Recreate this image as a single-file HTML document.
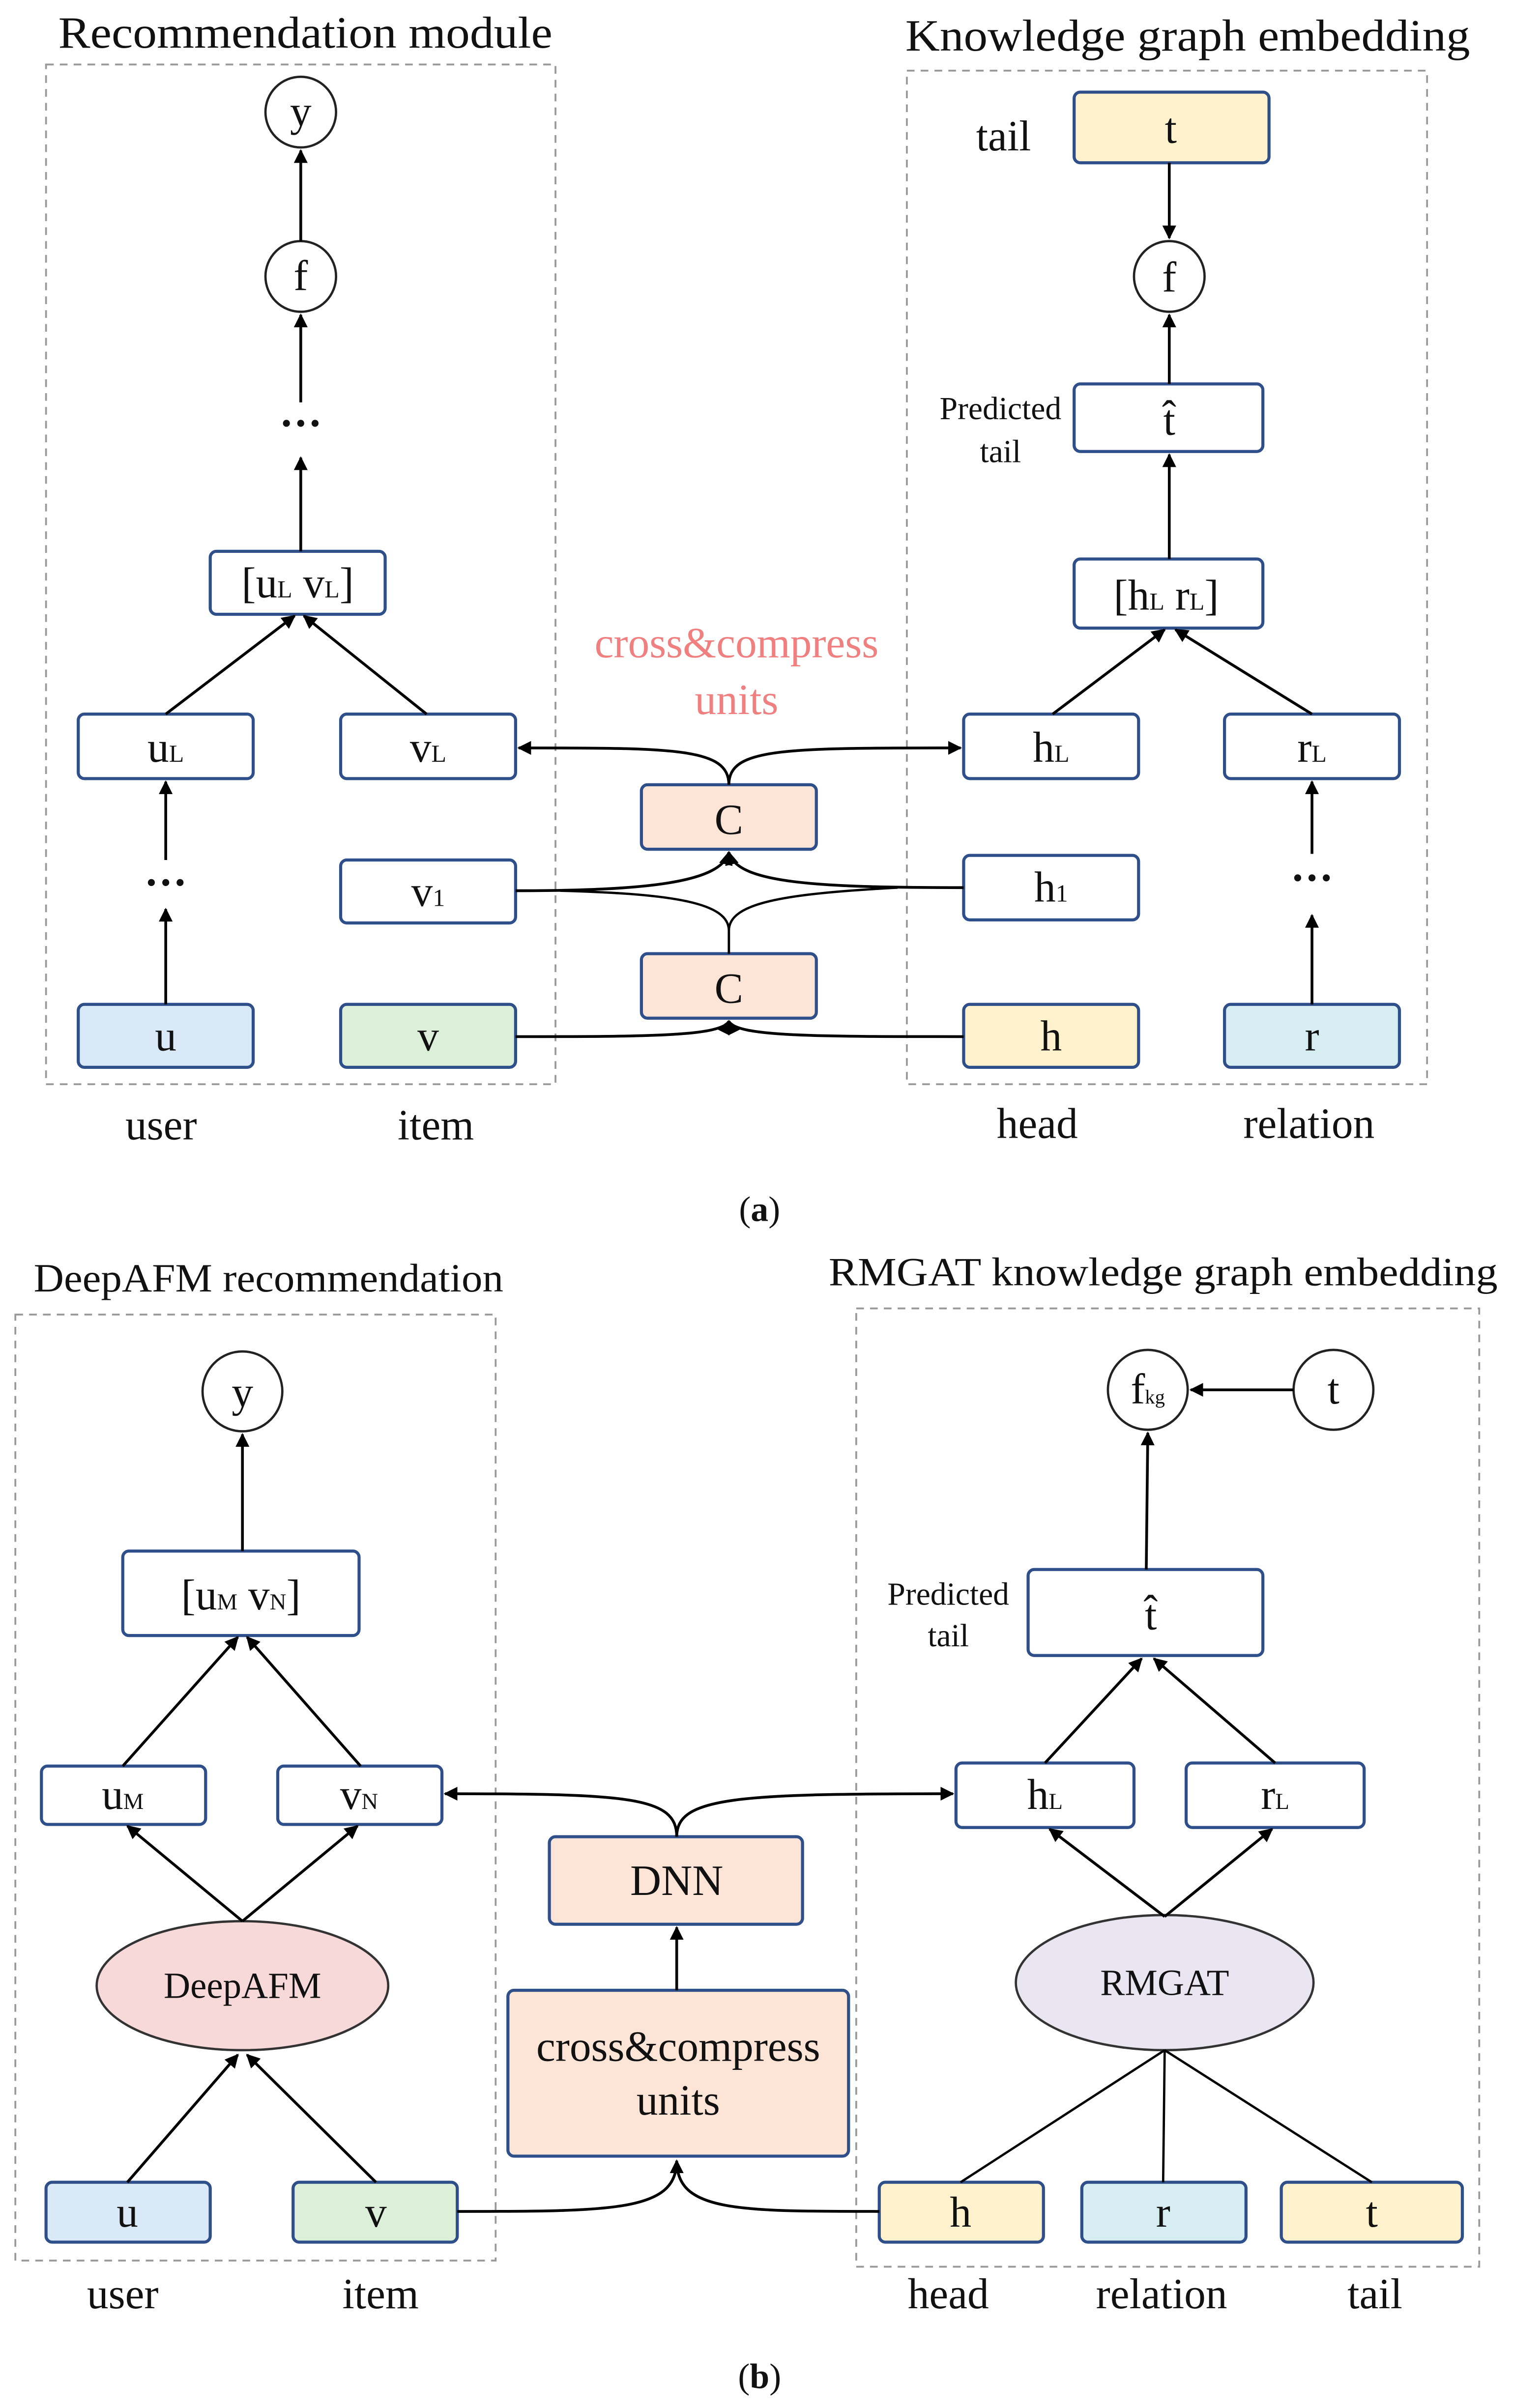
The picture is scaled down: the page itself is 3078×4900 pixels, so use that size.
<!DOCTYPE html>
<html><head><meta charset="utf-8"><style>
html,body{margin:0;padding:0;background:#fff}
svg{display:block}
text{font-family:"Liberation Serif",serif;fill:#111}
</style></head><body>
<svg width="3078" height="4900" viewBox="0 0 986 1568" preserveAspectRatio="none" xmlns="http://www.w3.org/2000/svg">
<defs>
<marker id="a" viewBox="0 0 10 10" refX="9" refY="5" markerWidth="5" markerHeight="5" orient="auto-start-reverse"><path d="M0,0 L10,5 L0,10 z" fill="#000"/></marker>
</defs>
<g fill="none" stroke="#999" stroke-width="1.2" stroke-dasharray="5,4">
<rect x="30" y="42" width="332" height="664"/>
<rect x="591" y="46" width="339" height="660"/>
<rect x="10" y="856" width="313" height="616"/>
<rect x="558" y="852" width="406" height="624"/>
</g>
<g font-size="29" text-anchor="middle">
<text x="199" y="31" textLength="322" lengthAdjust="spacingAndGlyphs">Recommendation module</text>
<text x="774" y="33" textLength="368" lengthAdjust="spacingAndGlyphs">Knowledge graph embedding</text>
<text x="175" y="841" font-size="26" textLength="306" lengthAdjust="spacingAndGlyphs">DeepAFM recommendation</text>
<text x="758" y="837" font-size="26" textLength="436" lengthAdjust="spacingAndGlyphs">RMGAT knowledge graph embedding</text>
</g>
<g stroke="#2e4f8a" stroke-width="2">
<rect x="137" y="359" width="114" height="41" rx="4" fill="#fff"/>
<rect x="51" y="465" width="114" height="42" rx="4" fill="#fff"/>
<rect x="222" y="465" width="114" height="42" rx="4" fill="#fff"/>
<rect x="222" y="560" width="114" height="41" rx="4" fill="#fff"/>
<rect x="51" y="654" width="114" height="41" rx="4" fill="#dae9f7"/>
<rect x="222" y="654" width="114" height="41" rx="4" fill="#dcefd8"/>
<rect x="418" y="511" width="114" height="42" rx="4" fill="#fce4d6"/>
<rect x="418" y="621" width="114" height="42" rx="4" fill="#fce4d6"/>
<rect x="700" y="60" width="127" height="46" rx="4" fill="#fff2cc"/>
<rect x="700" y="250" width="123" height="44" rx="4" fill="#fff"/>
<rect x="700" y="364" width="123" height="45" rx="4" fill="#fff"/>
<rect x="628" y="465" width="114" height="42" rx="4" fill="#fff"/>
<rect x="798" y="465" width="114" height="42" rx="4" fill="#fff"/>
<rect x="628" y="557" width="114" height="42" rx="4" fill="#fff"/>
<rect x="628" y="654" width="114" height="41" rx="4" fill="#fff2cc"/>
<rect x="798" y="654" width="114" height="41" rx="4" fill="#d6eef2"/>
<rect x="80" y="1010" width="154" height="55" rx="4" fill="#fff"/>
<rect x="27" y="1150" width="107" height="38" rx="4" fill="#fff"/>
<rect x="181" y="1150" width="107" height="38" rx="4" fill="#fff"/>
<rect x="30" y="1421" width="107" height="39" rx="4" fill="#dae9f7"/>
<rect x="191" y="1421" width="107" height="39" rx="4" fill="#dcefd8"/>
<rect x="358" y="1196" width="165" height="57" rx="4" fill="#fce4d6"/>
<rect x="331" y="1296" width="222" height="108" rx="4" fill="#fce4d6"/>
<rect x="670" y="1022" width="153" height="56" rx="4" fill="#fff"/>
<rect x="623" y="1148" width="116" height="42" rx="4" fill="#fff"/>
<rect x="773" y="1148" width="116" height="42" rx="4" fill="#fff"/>
<rect x="573" y="1421" width="107" height="39" rx="4" fill="#fff2cc"/>
<rect x="705" y="1421" width="107" height="39" rx="4" fill="#d6eef2"/>
<rect x="835" y="1421" width="118" height="39" rx="4" fill="#fff2cc"/>
</g>
<g stroke="#222" stroke-width="1.5" fill="#fff">
<circle cx="196" cy="73" r="23"/><circle cx="196" cy="180" r="23"/>
<circle cx="762" cy="180" r="23"/>
<circle cx="158" cy="906" r="26"/>
<circle cx="748" cy="905" r="26"/><circle cx="869" cy="905" r="26"/>
</g>
<g stroke="#333" stroke-width="1.5">
<ellipse cx="158" cy="1293" rx="95" ry="42" fill="#f8d9d9"/>
<ellipse cx="759" cy="1291" rx="97" ry="44" fill="#e9e5f1"/>
</g>
<g stroke="#000" stroke-width="1.8" fill="none" marker-end="url(#a)">
<line x1="108" y1="654" x2="108" y2="592"/>
<line x1="108" y1="560" x2="108" y2="509"/>
<line x1="108" y1="465" x2="192" y2="401"/>
<line x1="278" y1="465" x2="198" y2="401"/>
<line x1="196" y1="359" x2="196" y2="298"/>
<line x1="196" y1="262" x2="196" y2="205"/>
<line x1="196" y1="157" x2="196" y2="98"/>
<line x1="762" y1="106" x2="762" y2="155"/>
<line x1="762" y1="250" x2="762" y2="205"/>
<line x1="762" y1="364" x2="762" y2="296"/>
<line x1="686" y1="465" x2="759" y2="410"/>
<line x1="855" y1="465" x2="766" y2="410"/>
<line x1="855" y1="556" x2="855" y2="509"/>
<line x1="855" y1="654" x2="855" y2="596"/>
<path d="M475,511 C475,487 440,487 338,487"/>
<path d="M475,511 C475,487 510,487 626,487"/>
<path d="M336,580 C420,580 470,575 475,555"/>
<path d="M628,578 C530,578 480,575 475,555"/>
<path d="M336,675 C420,675 470,675 475,665"/>
<path d="M628,675 C530,675 480,675 475,665"/>
<line x1="158" y1="1010" x2="158" y2="934"/>
<line x1="80" y1="1150" x2="155" y2="1066"/>
<line x1="235" y1="1150" x2="161" y2="1066"/>
<line x1="158" y1="1251" x2="83" y2="1189"/>
<line x1="158" y1="1251" x2="233" y2="1189"/>
<line x1="83" y1="1421" x2="155" y2="1338"/>
<line x1="245" y1="1421" x2="161" y2="1338"/>
<line x1="441" y1="1296" x2="441" y2="1255"/>
<path d="M441,1196 C441,1170 410,1168 290,1168"/>
<path d="M441,1196 C441,1170 480,1168 621,1168"/>
<path d="M298,1440 C400,1440 441,1440 441,1407"/>
<path d="M573,1440 C480,1440 441,1440 441,1407"/>
<line x1="843" y1="905" x2="776" y2="905"/>
<line x1="747" y1="1022" x2="748" y2="933"/>
<line x1="681" y1="1148" x2="744" y2="1080"/>
<line x1="831" y1="1148" x2="752" y2="1080"/>
<line x1="759" y1="1248" x2="684" y2="1191"/>
<line x1="759" y1="1248" x2="829" y2="1191"/>
</g>
<g stroke="#000" stroke-width="1.5" fill="none">
<path d="M475,621 L475,606 C475,588 440,582 365,580"/>
<path d="M475,621 L475,606 C475,588 510,582 585,578"/>
<line x1="759" y1="1335" x2="626" y2="1421"/>
<line x1="759" y1="1335" x2="758" y2="1421"/>
<line x1="759" y1="1335" x2="894" y2="1421"/>
</g>
<g font-size="28" text-anchor="middle">
<text x="196" y="82">y</text><text x="196" y="189">f</text>
<text x="196" y="285" font-weight="bold">···</text>
<text x="194" y="389">[u<tspan font-size="16">L</tspan> v<tspan font-size="16">L</tspan>]</text>
<text x="108" y="496">u<tspan font-size="16">L</tspan></text>
<text x="279" y="496">v<tspan font-size="16">L</tspan></text>
<text x="108" y="584" font-weight="bold">···</text>
<text x="279" y="590">v<tspan font-size="16">1</tspan></text>
<text x="108" y="684">u</text><text x="279" y="684">v</text>
<text x="475" y="543">C</text><text x="475" y="653">C</text>
<text x="480" y="428" style="fill:#f08080">cross&amp;compress</text>
<text x="480" y="465" style="fill:#f08080">units</text>
<text x="763" y="93">t</text>
<text x="654" y="98">tail</text>
<text x="762" y="190">f</text>
<text x="762" y="283">t̂</text>
<text x="760" y="397">[h<tspan font-size="16">L</tspan> r<tspan font-size="16">L</tspan>]</text>
<text x="685" y="496">h<tspan font-size="16">L</tspan></text>
<text x="855" y="496">r<tspan font-size="16">L</tspan></text>
<text x="685" y="587">h<tspan font-size="16">1</tspan></text>
<text x="855" y="581" font-weight="bold">···</text>
<text x="685" y="684">h</text><text x="855" y="684">r</text>
<text x="105" y="742">user</text><text x="284" y="742">item</text>
<text x="676" y="741">head</text><text x="853" y="741">relation</text>
<text x="495" y="795" font-size="23">(<tspan font-weight="bold">a</tspan>)</text>
<text x="158" y="916">y</text>
<text x="157" y="1048">[u<tspan font-size="15">M</tspan> v<tspan font-size="15">N</tspan>]</text>
<text x="80" y="1178">u<tspan font-size="15">M</tspan></text>
<text x="234" y="1178">v<tspan font-size="15">N</tspan></text>
<text x="158" y="1301" font-size="24">DeepAFM</text>
<text x="83" y="1450">u</text><text x="245" y="1450">v</text>
<text x="441" y="1234">DNN</text>
<text x="442" y="1342">cross&amp;compress</text>
<text x="442" y="1377">units</text>
<text x="748" y="914">f<tspan font-size="13">kg</tspan></text>
<text x="869" y="914">t</text>
<text x="750" y="1061">t̂</text>
<text x="681" y="1178">h<tspan font-size="15">L</tspan></text>
<text x="831" y="1178">r<tspan font-size="15">L</tspan></text>
<text x="759" y="1299" font-size="24">RMGAT</text>
<text x="626" y="1450">h</text><text x="758" y="1450">r</text><text x="894" y="1450">t</text>
<text x="80" y="1503">user</text><text x="248" y="1503">item</text>
<text x="618" y="1503">head</text><text x="757" y="1503">relation</text><text x="896" y="1503">tail</text>
<text x="495" y="1555" font-size="23">(<tspan font-weight="bold">b</tspan>)</text>
</g>
<g font-size="21" text-anchor="middle">
<text x="652" y="273">Predicted</text><text x="652" y="301">tail</text>
<text x="618" y="1045">Predicted</text><text x="618" y="1072">tail</text>
</g>
</svg>
</body></html>
